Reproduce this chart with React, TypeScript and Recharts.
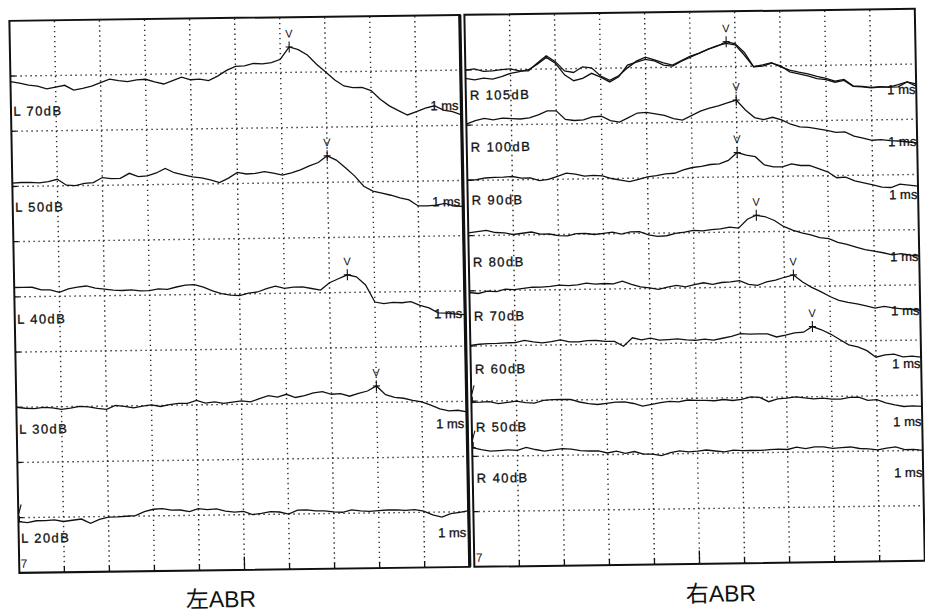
import React from 'react';
import { LineChart, Line, XAxis, YAxis, ReferenceLine, ReferenceArea, ReferenceDot } from 'recharts';

// ─── ABR waveform sheet, left and right ear ──────────────────────────
// Each sweep: amplitude in tenths of a grid division, one sample every 0.2 ms (0–10 ms).

const STEP_MS = 0.2;
const GRID_TICKS = [1, 2, 3, 4, 5, 6, 7, 8, 9];

// left ear
const L70 = [-1.0, -1.3, -1.7, -1.9, -2.4, -2.1, -1.8, -2.7, -2.4, -2.0, -1.4, -0.8, -1.1, -1.3, -1.0, -0.9, -1.4, -1.8, -1.2, -0.6, -1.1, -1.0, -1.3, -0.5, 0.5, 1.2, 1.3, 1.7, 1.6, 1.8, 2.4, 4.6, 4.1, 3.1, 1.4, 0.0, -1.5, -2.6, -2.9, -2.9, -3.5, -5.1, -6.3, -7.2, -8.0, -7.4, -6.8, -6.4, -7.2, -7.5, -8.1];
const L50 = [0.6, 0.7, 0.7, 0.6, 0.8, 1.2, 0.1, 0.0, 0.4, 0.5, 1.4, 1.2, 1.2, 2.1, 1.5, 1.6, 2.1, 2.9, 2.1, 1.7, 1.3, 1.1, 0.7, 0.2, 1.0, 2.0, 1.7, 1.8, 2.1, 1.8, 1.4, 1.8, 2.3, 3.0, 3.6, 4.8, 4.0, 2.6, 1.1, -0.8, -1.7, -2.1, -2.5, -3.0, -3.4, -4.5, -4.5, -4.4, -4.1, -4.6, -4.7];
const L40 = [1.7, 1.7, 1.7, 1.2, 1.2, 0.7, 1.3, 1.6, 1.8, 1.4, 1.2, 1.0, 0.9, 1.0, 0.8, 0.8, 1.1, 1.0, 1.4, 1.7, 1.8, 1.3, 0.6, 0.1, -0.2, -0.3, 0.1, 0.3, 0.9, 1.3, 0.9, 1.1, 1.1, 0.8, 0.5, 1.8, 2.5, 3.2, 2.8, 1.3, -1.8, -2.1, -1.9, -2.0, -1.8, -2.5, -3.0, -3.9, -4.0, -4.2, -4.3];
const L30 = [0.0, -0.2, -0.3, -0.1, -0.2, -0.5, -0.3, 0.0, -0.1, -0.4, -0.6, 0.1, -0.1, -0.4, -0.1, 0.1, -0.2, 0.1, 0.3, 0.3, 0.8, 0.3, 0.5, 0.2, 0.4, 0.6, 0.4, 1.0, 1.5, 1.2, 1.7, 1.1, 1.4, 1.9, 2.1, 1.6, 1.7, 1.2, 1.7, 2.1, 3.0, 1.4, 0.9, 0.7, 0.3, 0.0, -0.6, -1.3, -1.7, -1.6, -1.9];
const L20 = [-0.7, -0.9, -0.6, -0.6, -0.5, -0.8, -0.6, -0.4, -1.2, -0.5, -0.1, -0.1, 0.0, 0.1, 0.8, 1.2, 1.3, 1.0, 1.0, 0.7, 1.2, 1.0, 1.1, 0.7, 0.5, 0.6, 0.0, 0.2, 0.5, 0.4, 0.0, 0.7, 0.7, 0.5, 0.5, 0.3, 0.2, 0.6, 0.4, 0.3, 0.4, 0.5, 0.5, 0.4, 0.5, 0.2, -0.5, -0.9, -0.3, -0.1, 0.2];

// right ear (105 dB was recorded twice)
const R105A = [0.0, 0.2, -0.3, -0.2, 0.0, 0.1, -0.3, -0.3, 1.1, 2.4, 1.3, -0.4, -0.7, 0.3, 0.1, -1.4, -2.2, -1.4, 0.0, 1.2, 1.9, 1.4, 0.8, 0.4, 1.2, 2.0, 2.5, 3.2, 3.7, 4.5, 4.1, 2.5, -0.1, 0.2, 0.6, -0.2, -0.8, -1.2, -1.5, -2.0, -2.4, -2.9, -2.6, -3.8, -3.9, -4.1, -4.0, -4.1, -3.7, -3.2, -4.0];
const R105B = [-1.5, -1.8, -1.5, -1.7, -1.3, -0.7, -0.4, -0.1, 0.9, 2.1, 1.0, -1.1, -2.2, -1.8, -0.9, -1.6, -2.5, -1.6, 0.5, 1.0, 1.5, 1.2, 0.4, 0.2, 1.1, 1.8, 2.5, 3.2, 3.8, 4.2, 3.9, 2.0, -0.1, 0.0, 0.5, 0.0, -1.1, -1.5, -1.9, -2.4, -2.6, -3.1, -2.8, -3.9, -4.0, -4.2, -4.1, -4.1, -4.1, -3.2, -3.6];
const R100 = [0.2, 0.8, 1.2, 0.9, 1.2, 1.1, 1.0, 1.2, 1.7, 2.4, 2.4, 0.8, 0.6, 0.7, 1.2, 1.3, 0.5, 0.2, 1.0, 1.8, 1.9, 1.6, 1.3, 0.7, 0.4, 1.2, 2.0, 2.5, 2.9, 3.4, 3.9, 2.1, 0.7, 0.3, 0.7, 0.2, -0.6, -1.1, -1.2, -1.5, -1.8, -2.2, -2.1, -2.9, -3.3, -3.7, -3.6, -3.8, -3.9, -4.1, -4.3];
const R90 = [0.1, 0.1, 0.4, 0.5, 0.5, 0.6, 0.3, 0.3, -0.2, 0.0, 0.5, 1.1, 0.9, 0.5, 0.6, 0.5, 0.0, -0.3, -0.6, -0.2, 0.2, 0.4, 0.7, 0.8, 1.4, 1.8, 2.0, 2.3, 2.4, 3.0, 4.4, 3.9, 3.6, 2.1, 1.7, 1.7, 2.2, 1.9, 1.9, 1.3, 0.7, -0.4, -0.3, -1.0, -1.4, -1.8, -2.2, -2.3, -1.7, -1.9, -2.1];
const R80 = [0.5, 0.7, 0.9, 0.5, 0.4, 0.1, 0.3, 0.5, 0.1, 0.1, -0.2, -0.3, 0.1, 0.1, -0.1, 0.1, 0.3, -0.1, 0.3, 0.3, -0.3, -0.6, -0.5, -0.1, 0.1, 0.4, 0.3, 0.5, 0.6, 0.9, 0.7, 2.3, 3.0, 2.7, 2.0, 0.9, 0.2, -0.3, -0.7, -1.2, -1.4, -2.1, -2.5, -3.0, -3.5, -3.8, -4.1, -4.5, -4.3, -4.6, -4.8];
const R70 = [-0.3, -0.5, -0.1, -0.2, 0.2, 0.1, 0.3, 0.5, 0.5, 0.6, 0.8, 0.7, 0.8, 1.1, 0.9, 1.0, 0.9, 1.4, 0.8, 0.3, 0.1, -0.2, 0.2, 0.5, 0.2, 0.6, 0.9, 0.6, 0.9, 1.0, 1.2, 0.5, 0.3, 0.9, 1.2, 1.7, 2.1, 0.8, -0.2, -1.0, -1.9, -2.6, -3.0, -3.3, -3.7, -4.1, -3.8, -4.1, -4.3, -4.4, -4.6];
const R60 = [0.1, 0.3, 0.4, 0.4, 0.5, 0.5, 0.9, 0.6, 0.4, 0.6, 0.9, 0.5, 0.5, 0.7, 0.7, 0.5, 0.5, -0.4, 1.1, 0.7, 1.0, 0.6, 0.7, 0.8, 0.6, 0.5, 0.7, 0.5, 0.8, 1.1, 1.6, 1.5, 1.5, 1.5, 0.9, 1.2, 1.6, 1.7, 2.7, 2.1, 1.3, 0.3, -0.7, -1.1, -1.8, -3.0, -2.6, -2.5, -3.0, -2.9, -3.1];
const R50 = [-0.2, -0.2, -0.1, -0.5, -0.3, -0.1, -0.4, -0.5, 0.0, 0.1, 0.1, 0.1, -0.4, -0.7, -0.9, -0.7, -0.5, -0.5, -0.8, -1.3, -1.0, -0.7, -0.5, -0.6, -0.3, -0.4, -0.4, -0.5, -0.3, -0.5, -0.3, 0.1, 0.0, -0.8, -0.3, -0.2, 0.0, -0.2, -0.4, -0.3, -0.5, -0.5, -0.2, -0.2, -0.8, -0.7, -1.3, -1.7, -2.0, -1.9, -2.0];
const R40 = [1.6, 1.2, 0.9, 1.0, 1.1, 1.0, 1.5, 1.1, 0.8, 1.0, 1.2, 1.1, 0.8, 0.7, 0.7, 0.3, 0.6, 0.2, 0.5, 0.0, 0.0, -0.3, 0.2, 0.5, 0.3, 0.4, 0.6, 0.4, 0.2, 0.5, 0.4, 0.4, 0.4, 0.5, 0.6, 0.5, 0.9, 0.6, 0.9, 0.9, 0.6, 0.7, 0.8, 0.5, 0.4, 0.2, 0.5, 0.7, 0.2, 0.2, 0.0];

const LEFT_LEVELS = ['L 70dB', 'L 50dB', 'L 40dB', 'L 30dB', 'L 20dB'];
const LEFT_SWEEPS = [[L70], [L50], [L40], [L30], [L20]];
const LEFT_BASES = [9, 7, 5, 3, 1];
// wave V latency in ms; 0 = cursor left parked at the start of the sweep
const LEFT_WAVE_V = [6.2, 7.0, 7.4, 8.0, 0];

const RIGHT_LEVELS = ['R 105dB', 'R 100dB', 'R 90dB', 'R 80dB', 'R 70dB', 'R 60dB', 'R 50dB', 'R 40dB'];
const RIGHT_SWEEPS = [[R105A, R105B], [R100], [R90], [R80], [R70], [R60], [R50], [R40]];
const RIGHT_BASES = [9, 8, 7, 6, 5, 4, 3, 2];
const RIGHT_WAVE_V = [5.8, 6.0, 6.0, 6.4, 7.2, 7.6, 0, 0];

// layout (px, before the sheet skew)
const PAD = 4;
const PANEL_W = 450.4;
const PANEL_H = 552;
const PANEL_TOP = 21;
const FONT = '"Liberation Sans", Arial, "Noto Sans CJK JP", sans-serif';
const INK = '#111';

// wave V cursor: small cross on the peak with a "V" above it
function VMark(props: any) {
  const { cx, cy, parked } = props;
  if (cx == null || cy == null) return null;
  if (parked) {
    // cursor at t = 0, only the half inside the frame shows
    return (
      <g stroke={INK} strokeWidth={1.1}>
        <line x1={cx + 1} y1={cy - 5.5} x2={cx + 1} y2={cy + 1} />
        <line x1={cx} y1={cy} x2={cx + 3.5} y2={cy} />
        <line x1={cx + 0.5} y1={cy - 8} x2={cx + 3} y2={cy - 17} />
      </g>
    );
  }
  return (
    <g>
      <line x1={cx} y1={cy - 5.5} x2={cx} y2={cy + 5.5} stroke={INK} strokeWidth={1.1} />
      <line x1={cx - 3.5} y1={cy} x2={cx + 3.5} y2={cy} stroke={INK} strokeWidth={1.1} />
      <text x={cx} y={cy - 9.5} textAnchor="middle" fontSize={11} fontFamily={FONT} fill={INK}>V</text>
    </g>
  );
}

interface PanelProps {
  x: number;
  levels: string[];
  sweeps: number[][][];
  bases: number[];
  waveV: number[];
  labelY: number[];
  labelInset: number;
  msInset: number;
  thickRight?: boolean;
}

const textStyle: React.CSSProperties = {
  position: 'absolute', fontSize: 13, lineHeight: '13px', whiteSpace: 'nowrap',
  WebkitTextStroke: '0.3px #111',
};

function Panel({ x, levels, sweeps, bases, waveV, labelY, labelInset, msInset, thickRight }: PanelProps) {
  const n = sweeps[0][0].length;
  const data = Array.from({ length: n }, (_, i) => {
    const row: Record<string, number> = { t: Math.round(i * STEP_MS * 10) / 10 };
    sweeps.forEach((set, li) => set.forEach((vals, si) => {
      row[`s${li}_${si}`] = bases[li] + vals[i] / 10;
    }));
    return row;
  });

  return (
    <>
      <div style={{ position: 'absolute', left: x - PAD, top: PANEL_TOP - PAD }}>
        <LineChart width={PANEL_W + 2 * PAD} height={PANEL_H + 2 * PAD} data={data}
          margin={{ top: PAD, right: PAD, bottom: PAD, left: PAD }}>
          <XAxis dataKey="t" type="number" domain={[0, 10]} hide />
          <YAxis type="number" domain={[0, 10]} hide />
          {GRID_TICKS.map(k => (
            <ReferenceLine key={`gx${k}`} x={k} stroke="#2a2a2a" strokeWidth={1.4} strokeDasharray="1.4 3.6" />
          ))}
          {GRID_TICKS.map(k => (
            <ReferenceLine key={`gy${k}`} y={k} stroke="#2a2a2a" strokeWidth={1.4} strokeDasharray="1.4 3.6" />
          ))}
          {GRID_TICKS.map(k => (
            <ReferenceLine key={`tx${k}`} segment={[{ x: k, y: 0 }, { x: k, y: k === 5 ? 0.24 : 0.11 }]} stroke={INK} strokeWidth={1.3} />
          ))}
          {GRID_TICKS.map(k => (
            <ReferenceLine key={`ty${k}`} segment={[{ x: 0, y: k }, { x: 0.11, y: k }]} stroke={INK} strokeWidth={1.3} />
          ))}
          {sweeps.map((set, li) => set.map((_, si) => (
            <Line key={`s${li}_${si}`} dataKey={`s${li}_${si}`} type="linear" stroke={INK}
              strokeWidth={1.3} dot={false} activeDot={false} isAnimationActive={false} />
          )))}
          {waveV.map((t, li) => (
            <ReferenceDot key={`v${li}`} x={t} y={data[Math.round(t / STEP_MS)][`s${li}_0`]}
              r={3} shape={(p: any) => <VMark cx={p.cx} cy={p.cy} parked={t === 0} />} />
          ))}
          <ReferenceArea x1={0} x2={10} y1={0} y2={10} fill="none" stroke={INK} strokeWidth={2} />
          {thickRight && <ReferenceLine x={10} stroke={INK} strokeWidth={3.2} />}
        </LineChart>
      </div>
      {levels.map((name, li) => (
        <React.Fragment key={name}>
          <div style={{ ...textStyle, left: x + labelInset, top: labelY[li] - 6.4, letterSpacing: 1.4 }}>
            {name}
          </div>
          <div style={{ ...textStyle, left: x + PANEL_W - msInset - 60, width: 60, top: labelY[li] - 6.4, textAlign: 'right' }}>
            1 ms
          </div>
        </React.Fragment>
      ))}
      <div style={{ position: 'absolute', left: x + 1.8, top: 558, fontSize: 12, lineHeight: '12px' }}>7</div>
    </>
  );
}

export default function App() {
  return (
    <div style={{ position: 'absolute', left: 0, top: 0, width: 925, height: 613, overflow: 'hidden', background: '#fff' }}>
      <div style={{
        position: 'absolute', left: 0, top: 0, width: 925, height: 613,
        transform: 'matrix(1, -0.0133, 0.0181, 1, 0, 0)', transformOrigin: '0 0',
        fontFamily: FONT, color: INK,
      }}>
        <Panel x={8.6} levels={LEFT_LEVELS} sweeps={LEFT_SWEEPS} bases={LEFT_BASES} waveV={LEFT_WAVE_V}
          labelY={[111, 207.4, 319.7, 429, 538.3]} labelInset={2.7} msInset={2.5} thickRight />
        <Panel x={464} levels={RIGHT_LEVELS} sweeps={RIGHT_SWEEPS} bases={RIGHT_BASES} waveV={RIGHT_WAVE_V}
          labelY={[101.6, 153.8, 206.3, 268, 322.8, 375, 433.8, 484.7]} labelInset={4} msInset={0.8} />
        <div style={{ position: 'absolute', left: 110, width: 200, top: 593.6, fontSize: 23, lineHeight: '16px', textAlign: 'center' }}>左ABR</div>
        <div style={{ position: 'absolute', left: 610, width: 200, top: 595.4, fontSize: 23, lineHeight: '16px', textAlign: 'center' }}>右ABR</div>
      </div>
    </div>
  );
}
